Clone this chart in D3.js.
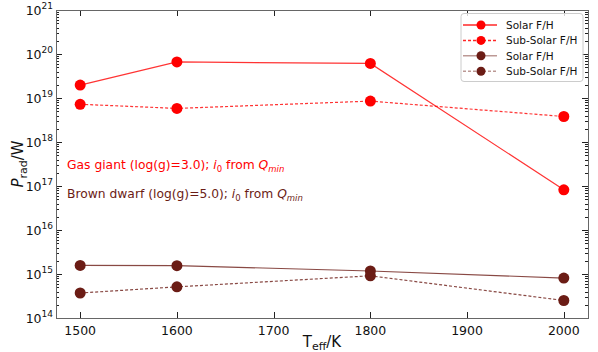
<!DOCTYPE html>
<html>
<head>
<meta charset="utf-8">
<script src="https://cdn.jsdelivr.net/npm/d3@7"></script>
<style>
  body { margin: 0; background: #fff; }
  text { font-family: "DejaVu Sans", sans-serif; }
</style>
</head>
<body>
<script>
// temperatures (K)
var temps = [1500, 1600, 1800, 2000];
// radiated power (W)
var gasSolar = [1.97e19, 6.6e19, 6.1e19, 8.2e16];
var gasSubSolar = [7.2e18, 5.8e18, 8.5e18, 3.8e18];
var bdSolar = [1.57e15, 1.55e15, 1.17e15, 8.1e14];
var bdSubSolar = [3.7e14, 5.1e14, 9.1e14, 2.5e14];
var xTicks = [1500, 1600, 1700, 1800, 1900, 2000];
var yExps = [14, 15, 16, 17, 18, 19, 20, 21];

var red = "#ff0000", brown = "#6b1c15";
var series = [
    {name: "Solar F/H", values: gasSolar, color: red, dash: null},
    {name: "Sub-Solar F/H", values: gasSubSolar, color: red, dash: "3,2"},
    {name: "Solar F/H", values: bdSolar, color: brown, dash: null},
    {name: "Sub-Solar F/H", values: bdSubSolar, color: brown, dash: "3,2"}
];

var width = 598, height = 352;
var padding = {top: 10, right: 10, bottom: 34, left: 56};

var svg = d3.select("body").append("svg")
    .attr("width", width)
    .attr("height", height);

var xScale = d3.scaleLinear()
    .domain([1475, 2025])
    .range([padding.left, width - padding.right]);
var yScale = d3.scaleLog()
    .domain([1e14, 1e21])
    .range([height - padding.bottom, padding.top]);

var x0 = padding.left, x1 = width - padding.right;
var y0 = height - padding.bottom, y1 = padding.top;

// minor log ticks
var minor = [];
for (var e = 14; e < 21; e++)
    for (var m = 2; m <= 9; m++) minor.push(m * Math.pow(10, e));

var ticks = svg.append("g").attr("stroke", "#222").attr("stroke-width", 1);
minor.forEach(function(v) {
    var y = Math.round(yScale(v)) + 0.5;
    ticks.append("line").attr("x1", x0).attr("x2", x0 + 3).attr("y1", y).attr("y2", y);
    ticks.append("line").attr("x1", x1).attr("x2", x1 - 3).attr("y1", y).attr("y2", y);
});
yExps.forEach(function(e) {
    var y = Math.round(yScale(Math.pow(10, e))) + 0.5;
    ticks.append("line").attr("x1", x0).attr("x2", x0 + 6).attr("y1", y).attr("y2", y);
    ticks.append("line").attr("x1", x1).attr("x2", x1 - 6).attr("y1", y).attr("y2", y);
});
xTicks.forEach(function(t) {
    var x = Math.round(xScale(t)) + 0.5;
    ticks.append("line").attr("x1", x).attr("x2", x).attr("y1", y0).attr("y2", y0 - 6);
    ticks.append("line").attr("x1", x).attr("x2", x).attr("y1", y1).attr("y2", y1 + 6);
});

// frame
svg.append("rect")
    .attr("x", x0 + 0.5).attr("y", y1 + 0.5)
    .attr("width", x1 - x0).attr("height", y0 - y1)
    .attr("fill", "none").attr("stroke", "#666").attr("stroke-width", 1);

// x tick labels
svg.selectAll(".xlab").data(xTicks).enter().append("text")
    .attr("x", function(d) { return xScale(d); })
    .attr("y", y0 + 17)
    .attr("text-anchor", "middle")
    .attr("font-size", 12.5)
    .attr("fill", "#111")
    .text(function(d) { return d; });

// y tick labels
var ylab = svg.selectAll(".ylab").data(yExps).enter().append("text")
    .attr("x", x0 - 3)
    .attr("y", function(d) { return yScale(Math.pow(10, d)) + 5; })
    .attr("text-anchor", "end")
    .attr("font-size", 12.5)
    .attr("fill", "#111");
ylab.append("tspan").text("10");
ylab.append("tspan").attr("dy", -6).attr("font-size", 9).text(function(d) { return d; });

// axis labels
var xl = svg.append("text")
    .attr("x", (x0 + x1) / 2)
    .attr("y", height - 5)
    .attr("text-anchor", "middle")
    .attr("font-size", 15)
    .attr("fill", "#111");
xl.append("tspan").text("T");
xl.append("tspan").attr("dy", 3).attr("font-size", 11).text("eff");
xl.append("tspan").attr("dy", -3).text("/K");

var yl = svg.append("text")
    .attr("transform", "translate(23," + ((y0 + y1) / 2) + ") rotate(-90)")
    .attr("text-anchor", "middle")
    .attr("font-size", 15)
    .attr("fill", "#111");
yl.append("tspan").attr("font-style", "italic").text("P");
yl.append("tspan").attr("dy", 4).attr("font-size", 11).text("rad");
yl.append("tspan").attr("dy", -4).text("/W");

// lines and markers
var line = d3.line()
    .x(function(d, i) { return xScale(temps[i]); })
    .y(function(d) { return yScale(d); });

series.forEach(function(s) {
    svg.append("path")
        .attr("d", line(s.values))
        .attr("fill", "none")
        .attr("stroke", s.color)
        .attr("stroke-opacity", 0.8)
        .attr("stroke-width", 1.2)
        .attr("stroke-dasharray", s.dash);
    svg.selectAll(null).data(s.values).enter().append("circle")
        .attr("cx", function(d, i) { return xScale(temps[i]); })
        .attr("cy", function(d) { return yScale(d); })
        .attr("r", 5.5)
        .attr("fill", s.color);
});

// annotations
function note(y, color, label) {
    var t = svg.append("text")
        .attr("x", 67).attr("y", y)
        .attr("font-size", 12.3)
        .attr("fill", color);
    t.append("tspan").text(label + " ");
    t.append("tspan").attr("font-style", "italic").text("i");
    t.append("tspan").attr("dy", 3).attr("font-size", 8.5).text("0");
    t.append("tspan").attr("dy", -3).text(" from ");
    t.append("tspan").attr("font-style", "italic").text("Q");
    t.append("tspan").attr("dy", 3).attr("font-size", 8.5).attr("font-style", "italic").text("min");
}
note(168.5, red, "Gas giant (log(g)=3.0);");
note(198, brown, "Brown dwarf (log(g)=5.0);");

// legend
var lg = svg.append("g").attr("transform", "translate(461,13.5)");
lg.append("rect")
    .attr("width", 122).attr("height", 68).attr("rx", 3)
    .attr("fill", "#fff").attr("fill-opacity", 0.8)
    .attr("stroke", "#ccc");
series.forEach(function(s, i) {
    var y = 11.5 + i * 15.4;
    lg.append("line")
        .attr("x1", 2).attr("x2", 36).attr("y1", y).attr("y2", y)
        .attr("stroke", s.color).attr("stroke-opacity", s.color == red ? 0.85 : 0.45)
        .attr("stroke-width", 1.5)
        .attr("stroke-dasharray", s.dash);
    lg.append("circle").attr("cx", 20).attr("cy", y).attr("r", 4.5).attr("fill", s.color);
    lg.append("text")
        .attr("x", 45).attr("y", y + 4)
        .attr("font-size", 10.5).attr("fill", "#111")
        .text(s.name);
});
</script>
</body>
</html>
